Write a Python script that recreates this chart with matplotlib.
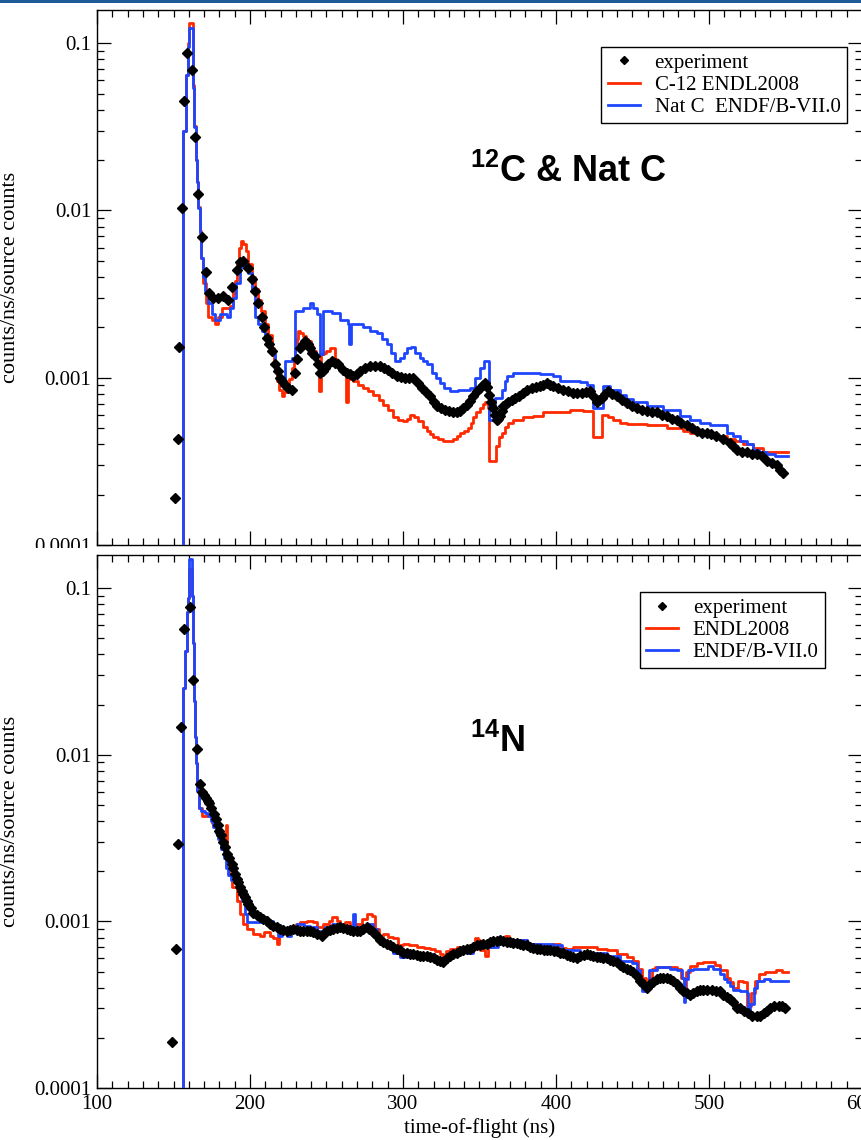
import numpy as np
import matplotlib
matplotlib.use("Agg")
import matplotlib.pyplot as plt
from matplotlib.ticker import MultipleLocator, FixedLocator, FixedFormatter, LogLocator, NullFormatter
from matplotlib.patches import Rectangle

plt.rcParams['font.family'] = ['Liberation Serif', 'DejaVu Serif']
plt.rcParams['mathtext.fontset'] = 'custom'
plt.rcParams['mathtext.rm'] = 'Liberation Sans:bold'
plt.rcParams['mathtext.bf'] = 'Liberation Sans:bold'

RED = '#ff2a00'
BLUE = '#1f46ff'

# ---------------- 12C & Nat C ----------------
c_red_x = [150, 156.4, 158.2, 159.7, 160.3, 163.0, 163.7, 164.6, 165.2, 166.2, 167.3, 168.2, 169.5, 171.0,
           172.7, 175.0, 177.1, 179.0, 181.5, 187.0, 189.0, 190.2, 191.5, 193.0, 194.1, 195.5, 197.4, 199.0,
           201.0, 203.0, 205.4, 207.5, 209.8, 212.0, 214.1, 216.0, 217.4, 219.0, 220.7, 222.5, 224.0, 225.5,
           227.2, 228.5, 229.4, 230.5, 231.6, 233.0, 234.9, 236.5, 238.2, 240.0, 241.5, 243.0, 243.7, 244.8,
           246.5, 248.5, 250.0, 252.5, 255.5, 256.6, 259.0, 261.0, 263.0, 264.0, 267.5, 270.5, 274.0, 277.0,
           280.6, 284.0, 287.1, 290.5, 293.7, 297.0, 300.2, 302.5, 304.6, 307.5, 310.0, 313.0, 315.5, 317.6,
           319.8, 323.0, 326.4, 330.0, 332.9, 335.0, 337.3, 340.0, 342.7, 344.5, 346.0, 348.0, 350.3, 352.0,
           353.6, 355.3, 356.5, 360.5, 362.5, 364.5, 366.5, 368.5, 372.0, 378.6, 385.1, 391.7, 400.4, 409.2,
           417.9, 424.0, 430.0, 434.0, 437.5, 442.0, 446.2, 459.3, 472.3, 483.2, 487.6, 500.6, 506.0, 511.5,
           517.0, 522.4, 528.9, 535.5, 543.0, 551.5]
c_red_y = [1e-6, 0.030, 0.065, 0.10, 0.132, 0.056, 0.032, 0.020, 0.0147, 0.0105, 0.0075, 0.0052, 0.0037, 0.0028,
           0.0023, 0.0022, 0.0021, 0.0023, 0.0026, 0.0027, 0.0032, 0.0038, 0.0048, 0.0060, 0.0066, 0.0063, 0.0057, 0.0048,
           0.0040, 0.0034, 0.0029, 0.0025, 0.0021, 0.0018, 0.0015, 0.0012, 0.00095, 0.00085, 0.00078, 0.00082, 0.00085, 0.00098,
           0.00115, 0.0013, 0.0015, 0.0017, 0.0019, 0.00185, 0.00178, 0.0017, 0.00166, 0.00155, 0.00144, 0.0013, 0.0012, 0.00083,
           0.00138, 0.0014, 0.00144, 0.0015, 0.0013, 0.0012, 0.0011, 0.00105, 0.00072, 0.00098, 0.00095, 0.0009, 0.00087, 0.00083,
           0.00079, 0.00074, 0.00069, 0.00064, 0.00058, 0.00056, 0.00055, 0.00057, 0.0006, 0.00058, 0.00055, 0.00051, 0.00048, 0.00046,
           0.00044, 0.00043, 0.00042, 0.00042, 0.00043, 0.00045, 0.00047, 0.00048, 0.0005, 0.00054, 0.00058, 0.00062, 0.00066, 0.0007,
           0.00072, 0.00066, 0.00032, 0.00039, 0.00044, 0.00047, 0.00051, 0.00054, 0.00056, 0.00058, 0.00059, 0.00062, 0.00062, 0.00064,
           0.00063, 0.00044, 0.0006, 0.00058, 0.00056, 0.00054, 0.00053, 0.00052, 0.0005, 0.00048, 0.00047, 0.00046, 0.00045, 0.00043,
           0.00042, 0.0004, 0.00038, 0.00036, 0.00036, 0.00036]

c_blue_x = [150, 156.4, 158.2, 159.7, 160.3, 163.0, 163.7, 164.6, 165.2, 166.2, 167.3, 168.2, 169.5, 170.6,
            172.7, 175.0, 177.1, 180.4, 184.7, 187.0, 189.1, 191.0, 193.5, 195.6, 197.5, 198.9, 201.0, 203.3,
            205.5, 207.6, 210.0, 213.1, 216.3, 219.6, 221.8, 222.9, 227.3, 229.4, 234.9, 239.5, 241.0, 244.0,
            245.5, 247.5, 253.4, 258.8, 264.3, 265.0, 266.0, 269.7, 274.0, 278.4, 282.8, 286.0, 289.3, 292.0,
            294.8, 298.0, 300.5, 302.4, 305.0, 307.8, 311.0, 313.3, 315.5, 318.7, 321.5, 324.2, 327.0, 330.7,
            336.2, 344.0, 347.3, 350.3, 352.8, 356.5, 360.0, 364.5, 366.5, 367.8, 372.0, 380.8, 389.5, 398.2,
            402.6, 415.7, 420.0, 424.0, 430.4, 435.3, 441.8, 446.0, 450.4, 459.3, 470.2, 481.1, 487.6, 494.0,
            500.6, 511.5, 516.0, 520.3, 525.0, 529.0, 533.0, 537.7, 543.0, 551.5]
c_blue_y = [1e-6, 0.030, 0.065, 0.095, 0.123, 0.054, 0.0316, 0.020, 0.0147, 0.0103, 0.0073, 0.0052, 0.0040, 0.0033,
            0.0028, 0.0024, 0.0022, 0.0024, 0.0023, 0.0026, 0.0030, 0.0037, 0.0046, 0.0050, 0.0046, 0.0042, 0.0033, 0.0023,
            0.0021, 0.0019, 0.0017, 0.00145, 0.0011, 0.0010, 0.00093, 0.00126, 0.00132, 0.0025, 0.0026, 0.0028, 0.0026, 0.0024,
            0.00138, 0.0025, 0.00245, 0.0022, 0.0021, 0.0016, 0.0021, 0.0021, 0.0020, 0.0019, 0.00186, 0.0017, 0.0016, 0.0014,
            0.00126, 0.00132, 0.0014, 0.0015, 0.00153, 0.00141, 0.00132, 0.00126, 0.0012, 0.00107, 0.0010, 0.00093, 0.00087, 0.00083,
            0.00085, 0.00087, 0.0010, 0.00115, 0.00126, 0.00056, 0.00076, 0.00085, 0.00095, 0.00103, 0.00107, 0.00107, 0.00105, 0.00103,
            0.00095, 0.00094, 0.00091, 0.00066, 0.00089, 0.00085, 0.00079, 0.00075, 0.00072, 0.00068, 0.00064, 0.00059, 0.00056, 0.00054,
            0.00052, 0.00047, 0.00045, 0.00042, 0.0004, 0.00037, 0.00036, 0.00035, 0.00034, 0.00034]

c_exp_x = [151.0, 152.7, 153.8, 155.6, 156.8, 159.0, 161.9, 164.1, 165.8, 168.4, 171.2, 173.4, 176.0, 179.3,
           182.6, 185.8, 188.5, 191.3, 193.5, 195.6, 198.5, 201.0, 203.3, 205.5, 207.6, 209.3, 210.9, 212.5,
           214.1, 216.3, 218.0, 219.6, 221.2, 222.9, 225.0, 227.3, 229.4, 231.0, 232.7, 234.4, 236.0, 237.6,
           239.2, 240.8, 242.5, 244.2, 245.8, 247.4, 249.0, 251.2, 253.4, 255.5, 257.7, 260.5, 263.2, 265.3,
           267.5, 269.7, 271.9, 275.0, 278.4, 281.7, 285.0, 287.7, 290.4, 293.1, 295.9, 298.6, 301.3, 304.0,
           306.7, 309.5, 312.2, 314.9, 317.6, 320.0, 322.0, 324.7, 327.5, 330.2, 332.9, 335.1, 337.3, 339.5,
           341.6, 343.8, 346.0, 348.2, 350.3, 352.0, 353.5, 355.0, 356.5, 357.8, 359.0, 360.1, 361.2, 362.3,
           363.4, 364.5, 365.6, 367.2, 368.8, 371.0, 373.2, 375.9, 378.6, 381.3, 384.1, 386.8, 389.5, 391.7,
           393.9, 396.0, 398.2, 401.5, 404.8, 408.0, 411.3, 414.0, 416.8, 419.5, 422.2, 424.4, 426.6, 428.2,
           429.9, 432.0, 434.2, 436.9, 439.7, 443.0, 446.2, 449.4, 452.7, 456.0, 459.3, 462.5, 465.8, 469.0,
           472.3, 475.5, 478.8, 482.0, 485.4, 488.6, 491.9, 495.2, 498.4, 501.6, 504.9, 509.0, 513.7, 516.0,
           518.0, 521.3, 524.6, 527.9, 531.2, 534.5, 537.7, 541.0, 544.2, 546.5, 548.6]
c_exp_y = [0.00019, 0.00043, 0.00153, 0.0103, 0.045, 0.087, 0.069, 0.0276, 0.0126, 0.0069, 0.0043, 0.0032, 0.0030, 0.0030,
           0.0031, 0.0029, 0.0035, 0.0044, 0.0049, 0.0050, 0.0045, 0.0039, 0.0033, 0.0028, 0.0023, 0.0020, 0.00174, 0.0016,
           0.00145, 0.0012, 0.0011, 0.0010, 0.00095, 0.00091, 0.00087, 0.00085, 0.00107, 0.0013, 0.00151, 0.0016, 0.00166, 0.0016,
           0.0015, 0.0014, 0.00134, 0.0012, 0.00107, 0.0011, 0.00115, 0.0012, 0.00126, 0.00123, 0.0012, 0.00112, 0.00107, 0.00105,
           0.00103, 0.00106, 0.0011, 0.00114, 0.00117, 0.00118, 0.00117, 0.00114, 0.00112, 0.00107, 0.00103, 0.00101, 0.0010, 0.0010,
           0.0010, 0.00093, 0.00087, 0.00082, 0.00078, 0.00072, 0.00068, 0.00066, 0.00064, 0.00063, 0.00062, 0.00062, 0.00063, 0.00066,
           0.00069, 0.00073, 0.00078, 0.00083, 0.00087, 0.0009, 0.00093, 0.00088, 0.00079, 0.00072, 0.00066, 0.0006, 0.00056, 0.00057,
           0.00059, 0.00063, 0.00068, 0.0007, 0.00072, 0.00074, 0.00076, 0.00078, 0.00081, 0.00084, 0.00087, 0.00088, 0.00089, 0.00091,
           0.00093, 0.00091, 0.00089, 0.00087, 0.00085, 0.00083, 0.00081, 0.00081, 0.00081, 0.00082, 0.00083, 0.00078, 0.00072, 0.00074,
           0.00076, 0.0008, 0.00083, 0.0008, 0.00078, 0.00074, 0.00071, 0.00068, 0.00066, 0.00064, 0.00063, 0.00062, 0.00062, 0.0006,
           0.00059, 0.00057, 0.00056, 0.00054, 0.00052, 0.0005, 0.00048, 0.00047, 0.00047, 0.00046, 0.00045, 0.00043, 0.00041, 0.00039,
           0.00037, 0.00036, 0.00036, 0.00035, 0.00035, 0.00034, 0.00032, 0.00031, 0.0003, 0.00028, 0.00027]

# ---------------- 14N ----------------
n_red_x = [150, 156.4, 157.5, 158.5, 159.2, 160.3, 161.8, 162.9, 163.6, 164.1, 164.8, 165.6, 166.8, 168.4,
           171.6, 175.0, 178.2, 181.5, 184.3, 185.0, 186.5, 188.0, 191.2, 193.5, 195.6, 197.8, 202.2, 206.5,
           209.0, 213.0, 215.2, 217.8, 219.0, 221.5, 226.0, 230.0, 232.7, 237.1, 241.4, 244.0, 247.5, 251.5,
           253.4, 256.6, 259.0, 262.0, 265.5, 269.0, 273.0, 276.3, 279.5, 281.5, 284.0, 287.1, 290.0, 293.7,
           297.0, 300.2, 304.0, 309.0, 314.0, 317.6, 321.0, 324.2, 326.0, 328.0, 330.7, 335.1, 337.5, 340.0,
           344.0, 347.1, 349.3, 350.3, 353.6, 355.5, 359.1, 363.4, 366.7, 369.0, 372.1, 380.8, 389.5, 398.2,
           402.6, 406.5, 411.4, 417.9, 426.5, 433.1, 439.7, 446.2, 450.5, 453.8, 456.0, 458.5, 460.5, 462.5,
           465.0, 474.5, 478.9, 481.5, 483.5, 485.0, 487.5, 489.8, 492.0, 496.0, 500.0, 504.0, 507.2, 511.6,
           514.0, 516.0, 519.0, 522.0, 525.0, 527.5, 530.0, 533.0, 536.5, 540.0, 544.0, 548.0, 551.5]
n_red_y = [1e-6, 0.025, 0.042, 0.072, 0.087, 0.13, 0.09, 0.047, 0.021, 0.0127, 0.0089, 0.0061, 0.0048, 0.0043,
           0.0044, 0.0039, 0.0034, 0.0027, 0.0038, 0.0023, 0.0019, 0.0016, 0.00133, 0.0011, 0.00097, 0.0009, 0.00084, 0.00082,
           0.00086, 0.00082, 0.0008, 0.00073, 0.00084, 0.0009, 0.00092, 0.00096, 0.00099, 0.00101, 0.00099, 0.00093, 0.00097, 0.00101,
           0.00106, 0.00101, 0.00097, 0.00099, 0.00094, 0.00097, 0.00104, 0.00111, 0.00108, 0.0009, 0.00082, 0.00084, 0.00081, 0.0008,
           0.00072, 0.00073, 0.00072, 0.0007, 0.00069, 0.00068, 0.00066, 0.00064, 0.00059, 0.00066, 0.00068, 0.0007, 0.00066, 0.00068,
           0.00072, 0.0008, 0.00077, 0.00067, 0.00062, 0.0007, 0.00075, 0.00077, 0.00082, 0.00078, 0.00077, 0.00073, 0.00072, 0.00073,
           0.00069, 0.00068, 0.0007, 0.0007, 0.00068, 0.00067, 0.00064, 0.00061, 0.00058, 0.00052, 0.00046, 0.00042, 0.00046, 0.00052,
           0.00053, 0.00053, 0.00052, 0.00046, 0.00038, 0.0005, 0.00054, 0.00054, 0.00056, 0.00057, 0.00057, 0.00055, 0.00051, 0.00046,
           0.00043, 0.0004, 0.00044, 0.00043, 0.00031, 0.00037, 0.00044, 0.00048, 0.0005, 0.0005, 0.00051, 0.0005, 0.0005]

n_blue_x = [150, 156.4, 157.5, 158.5, 159.2, 160.3, 161.8, 162.9, 163.6, 164.1, 164.8, 165.6, 166.8, 168.0,
            170.6, 172.8, 174.5, 176.1, 177.8, 179.4, 181.0, 182.7, 184.3, 185.8, 187.5, 191.0, 192.3, 194.6,
            196.7, 197.8, 205.0, 207.6, 210.9, 215.2, 218.5, 221.0, 224.0, 226.5, 230.5, 235.0, 239.5, 243.5,
            245.8, 249.0, 253.4, 257.7, 262.1, 266.5, 267.5, 268.5, 271.9, 276.3, 280.6, 283.0, 285.0, 289.4,
            293.7, 298.0, 302.4, 309.0, 315.5, 319.8, 324.2, 328.6, 332.0, 335.1, 341.6, 346.0, 352.5, 359.1,
            362.0, 365.6, 372.1, 380.8, 389.5, 398.2, 404.0, 406.9, 415.7, 424.4, 433.1, 441.8, 449.5, 452.7,
            454.9, 456.2, 458.5, 460.5, 462.6, 465.8, 474.5, 478.9, 482.2, 483.5, 484.5, 486.5, 489.8, 494.1,
            499.6, 502.9, 507.2, 509.5, 511.6, 514.0, 516.0, 520.3, 524.6, 525.5, 527.0, 529.1, 531.3, 535.7,
            540.0, 546.6, 551.5]
n_blue_y = [1e-6, 0.025, 0.042, 0.072, 0.087, 0.15, 0.09, 0.047, 0.021, 0.0127, 0.0089, 0.0061, 0.0048, 0.0046,
            0.0045, 0.0043, 0.0040, 0.0037, 0.0034, 0.0031, 0.0027, 0.0024, 0.0021, 0.0019, 0.00176, 0.0017, 0.0016, 0.00133,
            0.0011, 0.00099, 0.00099, 0.00106, 0.00101, 0.00092, 0.00082, 0.0009, 0.00082, 0.00091, 0.00097, 0.00094, 0.00092, 0.00088,
            0.00084, 0.00092, 0.00097, 0.00093, 0.00091, 0.00092, 0.0011, 0.00092, 0.00092, 0.00097, 0.0009, 0.00079, 0.00073, 0.0007,
            0.00065, 0.00061, 0.00062, 0.00064, 0.00064, 0.0006, 0.00057, 0.00061, 0.00066, 0.00067, 0.00065, 0.0007, 0.0007, 0.0007,
            0.00075, 0.00075, 0.00077, 0.00073, 0.00073, 0.00072, 0.00067, 0.00067, 0.00065, 0.00065, 0.00062, 0.00058, 0.00056, 0.00051,
            0.00044, 0.00038, 0.0004, 0.00051, 0.00051, 0.00053, 0.00052, 0.00051, 0.00046, 0.00033, 0.00045, 0.00051, 0.00052, 0.00052,
            0.00054, 0.00052, 0.00048, 0.00045, 0.00043, 0.00041, 0.00039, 0.00038, 0.00037, 0.00028, 0.00032, 0.0004, 0.00044, 0.00045,
            0.00044, 0.00044, 0.00044]

n_exp_x = [149.0, 151.6, 153.1, 154.7, 156.9, 160.8, 162.9, 165.5, 167.4, 168.6, 169.8, 171.0, 172.3, 173.5,
           174.8, 176.2, 177.6, 179.0, 180.0, 181.0, 182.1, 183.6, 185.2, 186.6, 188.0, 189.1, 190.2, 191.3,
           192.3, 193.5, 194.6, 195.6, 196.7, 197.8, 198.9, 200.5, 202.2, 204.3, 206.5, 208.7, 210.9, 213.0,
           215.2, 217.4, 219.6, 221.8, 224.0, 226.2, 228.3, 230.5, 232.7, 234.9, 237.1, 239.2, 241.4, 244.0,
           246.9, 248.5, 250.1, 252.3, 254.5, 256.6, 258.8, 261.0, 263.2, 265.4, 267.5, 269.7, 271.9, 274.1,
           276.3, 278.0, 279.5, 281.2, 282.8, 285.0, 287.1, 289.3, 291.5, 293.7, 295.9, 298.0, 300.2, 302.4,
           304.6, 306.8, 309.0, 311.0, 313.3, 315.5, 317.6, 320.0, 322.0, 324.0, 326.4, 328.5, 330.7, 333.0,
           335.1, 337.3, 339.5, 341.6, 343.8, 346.0, 348.2, 350.3, 352.5, 354.7, 356.9, 359.0, 361.2, 363.4,
           365.6, 367.8, 370.0, 372.0, 374.3, 376.5, 378.6, 380.8, 383.0, 385.2, 387.3, 389.5, 392.0, 394.0,
           396.1, 398.5, 400.5, 402.6, 404.8, 407.0, 409.2, 411.4, 413.5, 415.7, 418.0, 420.0, 422.2, 424.4,
           426.5, 428.7, 431.0, 433.1, 435.3, 437.5, 439.7, 442.0, 444.0, 446.2, 448.4, 450.5, 452.7, 454.9,
           457.1, 459.3, 461.4, 463.6, 465.8, 468.0, 470.2, 472.3, 474.5, 476.7, 478.9, 481.0, 483.2, 485.4,
           487.6, 489.8, 492.0, 494.1, 496.3, 498.5, 501.8, 504.5, 507.2, 509.4, 511.6, 513.8, 516.0, 518.2,
           520.4, 522.6, 525.3, 528.0, 531.3, 533.5, 535.7, 538.0, 540.0, 542.7, 545.5, 547.6, 549.8]
n_exp_y = [0.00019, 0.00068, 0.0029, 0.0146, 0.057, 0.077, 0.028, 0.0108, 0.0067, 0.0060, 0.0057, 0.0055, 0.0053, 0.0051,
           0.0048, 0.0044, 0.0041, 0.0038, 0.0035, 0.0033, 0.0030, 0.0028, 0.00254, 0.0024, 0.0022, 0.0021, 0.00193, 0.0018,
           0.00172, 0.0016, 0.00153, 0.00146, 0.0014, 0.00133, 0.00127, 0.0012, 0.00113, 0.00109, 0.00106, 0.00103, 0.00101, 0.00097,
           0.00094, 0.00092, 0.0009, 0.00089, 0.00088, 0.00089, 0.0009, 0.00089, 0.00088, 0.00088, 0.00088, 0.00087, 0.00086, 0.00084,
           0.00082, 0.00085, 0.00088, 0.00089, 0.0009, 0.00091, 0.00092, 0.00091, 0.0009, 0.00089, 0.00088, 0.00088, 0.00088, 0.0009,
           0.00092, 0.0009, 0.00088, 0.00085, 0.00082, 0.00077, 0.00075, 0.00073, 0.00072, 0.0007, 0.00068, 0.00067, 0.00065, 0.00065,
           0.00064, 0.00064, 0.00063, 0.00062, 0.00062, 0.00062, 0.00061, 0.0006, 0.00059, 0.00058, 0.00057, 0.0006, 0.00062, 0.00064,
           0.00065, 0.00066, 0.00067, 0.00068, 0.00068, 0.0007, 0.00072, 0.00072, 0.00073, 0.00073, 0.00075, 0.00076, 0.00076, 0.00077,
           0.00076, 0.00075, 0.00075, 0.00074, 0.00074, 0.00073, 0.00072, 0.00072, 0.0007, 0.00069, 0.00068, 0.00068, 0.00067, 0.00067,
           0.00067, 0.00066, 0.00066, 0.00065, 0.00065, 0.00063, 0.00062, 0.00061, 0.0006, 0.00062, 0.00063, 0.00064, 0.00063, 0.00062,
           0.00061, 0.00061, 0.0006, 0.0006, 0.00059, 0.00058, 0.00057, 0.00055, 0.00053, 0.00052, 0.00051, 0.0005, 0.00047, 0.00044,
           0.00042, 0.0004, 0.00042, 0.00043, 0.00045, 0.00046, 0.00046, 0.00046, 0.00045, 0.00044, 0.00042, 0.0004, 0.00038, 0.00037,
           0.00036, 0.00037, 0.00038, 0.00039, 0.00039, 0.00039, 0.00039, 0.00038, 0.00038, 0.00036, 0.00035, 0.00034, 0.00033, 0.0003,
           0.0003, 0.00029, 0.00028, 0.00027, 0.00027, 0.00027, 0.00028, 0.00029, 0.0003, 0.00031, 0.00031, 0.00031, 0.0003]

y_ticks = [1e-4, 1e-3, 1e-2, 1e-1]
y_tick_labels = ['0.0001', '0.001', '0.01', '0.1']
x_ticks = [100, 200, 300, 400, 500, 600]

W, H = 862, 1140
fig = plt.figure(figsize=(W / 100, H / 100), dpi=100)
fig.patch.set_facecolor('white')


def px_axes(left, top, right, bottom):
    return fig.add_axes([left / W, 1 - bottom / H, (right - left) / W, (bottom - top) / H])


ax1 = px_axes(97, 10, 862, 545)
ax2 = px_axes(97, 555, 862, 1088)


def style(ax, show_xlabels):
    ax.set_yscale('log')
    ax.set_xlim(100, 600)
    ax.set_ylim(1e-4, 0.158)
    ax.xaxis.set_major_locator(FixedLocator(x_ticks))
    ax.xaxis.set_minor_locator(MultipleLocator(10))
    ax.yaxis.set_major_locator(FixedLocator(y_ticks))
    ax.yaxis.set_major_formatter(FixedFormatter(y_tick_labels))
    ax.yaxis.set_minor_locator(LogLocator(base=10, subs=np.arange(2, 10)))
    ax.yaxis.set_minor_formatter(NullFormatter())
    ax.tick_params(which='both', direction='in', top=True, right=True, width=0.9, colors='black')
    ax.tick_params(which='major', length=10, labelsize=15, pad=4)
    ax.tick_params(which='minor', length=5)
    ax.tick_params(axis='x', which='major', pad=5)
    ax.tick_params(axis='x', labelbottom=show_xlabels)
    for s in ax.spines.values():
        s.set_linewidth(1.0)
    ax.set_ylabel('counts/ns/source counts', fontsize=16)
    ax.yaxis.set_label_coords(-0.100, 0.5)


style(ax1, False)
style(ax2, True)
ax2.set_xlabel('time-of-flight (ns)', fontsize=15, labelpad=3)

lw = 2.0
ms = 5
ax1.plot(c_red_x, c_red_y, drawstyle='steps-post', color=RED, lw=lw, label='C-12 ENDL2008', zorder=2)
ax1.plot(c_blue_x, c_blue_y, drawstyle='steps-post', color=BLUE, lw=lw, label='Nat C  ENDF/B-VII.0', zorder=3)
ax1.plot(c_exp_x, c_exp_y, linestyle='none', marker='D', ms=ms, color='black', label='experiment', zorder=4)

ax2.plot(n_red_x, n_red_y, drawstyle='steps-post', color=RED, lw=lw, label='ENDL2008', zorder=2)
ax2.plot(n_blue_x, n_blue_y, drawstyle='steps-post', color=BLUE, lw=lw, label='ENDF/B-VII.0', zorder=3)
ax2.plot(n_exp_x, n_exp_y, linestyle='none', marker='D', ms=ms, color='black', label='experiment', zorder=4)


def add_legend(ax, anchor):
    h, l = ax.get_legend_handles_labels()
    order = [2, 0, 1]
    leg = ax.legend([h[i] for i in order], [l[i] for i in order], loc='upper right',
                    bbox_to_anchor=anchor, borderaxespad=0, fontsize=15, frameon=True,
                    fancybox=False, framealpha=1, edgecolor='black', labelspacing=0.12,
                    handlelength=1.55, handletextpad=0.7, borderpad=0.3, markerscale=0.9)
    leg.get_frame().set_linewidth(1.0)
    return leg


add_legend(ax1, (0.980, 0.931))
add_legend(ax2, (0.9516, 0.9306))

ax1.text(0.4876, 0.6785, r'$^{12}$C & Nat C', transform=ax1.transAxes, ha='left', va='baseline',
         fontsize=26, fontweight='bold', family='Liberation Sans')
ax2.text(0.4876, 0.630, r'$^{14}$N', transform=ax2.transAxes, ha='left', va='baseline',
         fontsize=26, fontweight='bold', family='Liberation Sans')

# thin band at the top edge and the gap between the two panels
fig.patches.append(Rectangle((0, 1 - 3 / H), 1, 3 / H, transform=fig.transFigure,
                             facecolor='#1c5b98', edgecolor='none', zorder=10))
fig.patches.append(Rectangle((0, 1 - 555 / H), 96 / W, 7 / H, transform=fig.transFigure,
                             facecolor='white', edgecolor='none', zorder=10))

fig.savefig('out.png', dpi=100)
